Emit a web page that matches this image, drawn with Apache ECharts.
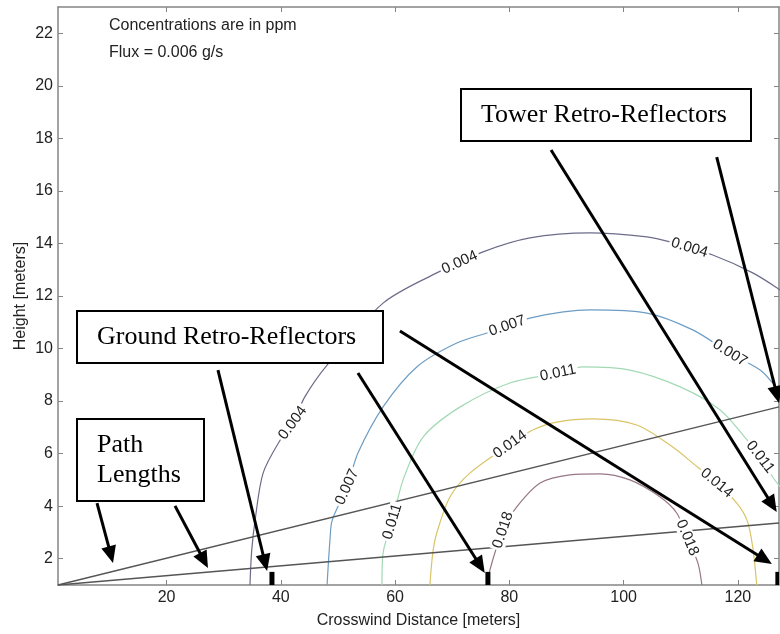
<!DOCTYPE html>
<html>
<head>
<meta charset="utf-8">
<title>Crosswind concentration contours</title>
<script src="https://cdn.jsdelivr.net/npm/echarts@6/dist/echarts.min.js"></script>
<style>
  html, body { margin: 0; padding: 0; background: #fff; }
  #main { width: 780px; height: 634px; }
</style>
</head>
<body>
<div id="main"></div>
<script>
// Axis ticks
const xTicks = [20, 40, 60, 80, 100, 120];
const yTicks = [2, 4, 6, 8, 10, 12, 14, 16, 18, 20, 22];

// Contour levels (ppm) and the [crosswind, height] points of each iso-line
const levels = ['0.004', '0.007', '0.011', '0.014', '0.018'];

const contour004 = [
  [34.6, 1.0], [34.9, 2.3], [35.5, 3.47], [36.9, 5.26], [39.9, 6.52], [42.1, 7.17],
  [44.2, 8.16], [48.1, 9.37], [57.9, 11.73], [67.3, 12.88], [75.4, 13.68],
  [83.6, 14.21], [94.1, 14.40], [104.1, 14.25], [108.1, 14.06], [115.6, 13.56],
  [122.6, 12.88], [127.4, 12.23]
];
const contour007 = [
  [48.1, 1.0], [48.6, 2.71], [49.0, 3.47], [51.6, 4.73], [53.5, 6.02], [57.9, 7.78],
  [63.8, 9.30], [70.8, 10.21], [76.6, 10.63], [83.6, 11.16], [94.1, 11.47],
  [104.1, 11.35], [112.1, 10.71], [118.6, 9.83], [123.9, 9.18], [126.1, 8.69],
  [127.4, 8.35]
];
const contour011 = [
  [57.7, 1.0], [57.9, 2.22], [59.6, 3.47], [61.4, 5.0], [64.9, 6.63], [71.4, 7.78],
  [80.1, 8.69], [88.5, 9.07], [92.9, 9.30], [101.1, 9.18], [109.9, 8.54],
  [116.9, 7.66], [121.6, 6.52], [123.9, 5.87], [126.1, 5.11], [127.4, 4.73]
];
const contour014 = [
  [66.1, 1.0], [66.6, 2.22], [67.3, 2.98], [69.6, 4.35], [73.1, 5.26], [80.5, 6.41],
  [84.1, 6.90], [88.3, 7.20], [94.6, 7.32], [102.3, 7.09], [108.6, 6.25],
  [112.1, 5.64], [116.3, 4.88], [119.8, 4.12], [121.6, 3.47], [122.6, 2.45],
  [123.3, 1.0]
];
const contour018 = [
  [76.3, 1.0], [76.6, 1.57], [78.9, 3.09], [81.3, 3.97], [85.4, 4.88], [90.6, 5.19],
  [95.9, 5.23], [101.1, 5.0], [106.4, 4.35], [109.3, 3.74], [111.1, 2.83],
  [113.0, 1.84], [113.7, 1.0]
];

// Inline contour labels: [level, crosswind, height]
const contourLabels = [
  ['0.004', 42.1, 7.17], ['0.004', 71.35, 13.26], ['0.004', 111.3, 13.68],
  ['0.007', 51.6, 4.73], ['0.007', 79.75, 10.78], ['0.007', 118.6, 9.83],
  ['0.011', 59.8, 3.40], ['0.011', 88.5, 9.07], ['0.011', 123.9, 5.87],
  ['0.014', 80.45, 6.25], ['0.014', 116.3, 4.88],
  ['0.018', 78.9, 3.09], ['0.018', 111.1, 2.79]
];

// Optical paths from the instrument to the tower retro-reflectors
const pathOrigin = [1, 1];
const pathEnds = [[127.2, 7.78], [127.2, 3.36]];

// Ground retro-reflector positions and their height
const groundReflectors = [38.45, 76.25, 127.0];
const reflectorTop = 1.5;

// Callout arrows: [fromX, fromY, toX, toY]
const arrows = [
  [7.83, 4.12, 10.63, 1.84],
  [21.48, 4.01, 27.25, 1.65],
  [29.0, 9.18, 37.6, 1.53],
  [53.5, 9.07, 75.7, 1.46],
  [60.85, 10.67, 125.95, 1.80],
  [87.3, 17.56, 126.8, 3.78],
  [116.3, 17.29, 127.2, 7.93]
];

const contours = [contour004, contour007, contour011, contour014, contour018];
const contourColors = ['#6c6c8a', '#6c9cc4', '#a2d9b4', '#d9c466', '#977787'];

const SANS = '"Liberation Sans", Arial, Helvetica, sans-serif';
const SERIF = '"Liberation Serif", "Times New Roman", serif';
const AXIS_COLOR = '#858585';

const chart = echarts.init(document.getElementById('main'), null, { renderer: 'canvas' });

const xMin = 1, xMax = 127.2, yMin = 1, yMax = 23;

function axisCommon(showLabels) {
  return {
    axisLine: { show: true, lineStyle: { color: AXIS_COLOR, width: 1.5 } },
    axisTick: { show: true, inside: true, length: 5, lineStyle: { color: AXIS_COLOR, width: 1 } },
    splitLine: { show: false },
    axisLabel: { show: showLabels, color: '#222', fontSize: 16, fontFamily: SANS, margin: 5 }
  };
}

const xBottom = Object.assign({
  type: 'value', position: 'bottom', min: xMin, max: xMax,
  name: 'Crosswind Distance [meters]', nameLocation: 'middle', nameGap: 28,
  nameMoveOverlap: false,
  nameTextStyle: { color: '#222', fontSize: 16, fontFamily: SANS }
}, axisCommon(true));
xBottom.axisTick.customValues = xTicks;
xBottom.axisLabel.customValues = xTicks;

const xTop = Object.assign({ type: 'value', position: 'top', min: xMin, max: xMax }, axisCommon(false));
xTop.axisTick.customValues = xTicks;
xTop.axisLabel.customValues = xTicks;

const yLeft = Object.assign({
  type: 'value', position: 'left', min: yMin, max: yMax,
  name: 'Height [meters]', nameLocation: 'middle', nameGap: 29,
  nameMoveOverlap: false,
  nameTextStyle: { color: '#222', fontSize: 16, fontFamily: SANS }
}, axisCommon(true));
yLeft.axisTick.customValues = yTicks;
yLeft.axisLabel.customValues = yTicks;

const yRight = Object.assign({ type: 'value', position: 'right', min: yMin, max: yMax }, axisCommon(false));
yRight.axisTick.customValues = yTicks;
yRight.axisLabel.customValues = yTicks;

const series = [];

contours.forEach(function (pts, i) {
  series.push({
    name: levels[i], type: 'line', data: pts, smooth: 0.3,
    symbol: 'none', showSymbol: false, silent: true,
    lineStyle: { color: contourColors[i], width: 1.2 }, z: 2
  });
});

pathEnds.forEach(function (end) {
  series.push({
    type: 'line', data: [pathOrigin, end], symbol: 'none', silent: true,
    lineStyle: { color: '#555', width: 1.3 }, z: 3
  });
});

// Ground retro-reflectors as small black posts
series.push({
  type: 'custom', silent: true, z: 4, clip: true,
  data: groundReflectors.map(function (x) { return [x, reflectorTop]; }),
  encode: { x: 0, y: 1 },
  renderItem: function (params, api) {
    const top = api.coord([api.value(0), api.value(1)]);
    const base = api.coord([api.value(0), yMin]);
    return {
      type: 'rect',
      shape: { x: top[0] - 2.5, y: top[1], width: 5, height: base[1] - top[1] },
      style: { fill: '#000' }
    };
  }
});

// Callout arrows with filled heads
series.push({
  type: 'custom', silent: true, z: 6, clip: false,
  data: arrows,
  encode: { x: [0, 2], y: [1, 3] },
  renderItem: function (params, api) {
    const p1 = api.coord([api.value(0), api.value(1)]);
    const p2 = api.coord([api.value(2), api.value(3)]);
    const dx = p2[0] - p1[0], dy = p2[1] - p1[1];
    const len = Math.sqrt(dx * dx + dy * dy);
    const ux = dx / len, uy = dy / len;
    const headLen = 17, headHalf = 7.5;
    const bx = p2[0] - ux * headLen, by = p2[1] - uy * headLen;
    return {
      type: 'group',
      children: [
        { type: 'line', shape: { x1: p1[0], y1: p1[1], x2: bx + ux * 2, y2: by + uy * 2 },
          style: { stroke: '#000', lineWidth: 3 } },
        { type: 'polygon',
          shape: { points: [[p2[0], p2[1]], [bx - uy * headHalf, by + ux * headHalf], [bx + uy * headHalf, by - ux * headHalf]] },
          style: { fill: '#000' } }
      ]
    };
  }
});

chart.setOption({
  animation: false,
  backgroundColor: '#fff',
  grid: { left: 58, right: 1, top: 7, bottom: 49, containLabel: false, outerBoundsMode: 'none' },
  xAxis: [xBottom, xTop],
  yAxis: [yLeft, yRight],
  series: series
});

// Place contour labels on their iso-lines, aligned with the local direction
function labelGraphics() {
  const out = [];
  contourLabels.forEach(function (lab) {
    const idx = levels.indexOf(lab[0]);
    const pts = contours[idx].map(function (p) {
      return chart.convertToPixel({ xAxisIndex: 0, yAxisIndex: 0 }, p);
    });
    const a = chart.convertToPixel({ xAxisIndex: 0, yAxisIndex: 0 }, [lab[1], lab[2]]);
    let best = null;
    for (let i = 0; i < pts.length - 1; i++) {
      const s = pts[i], e = pts[i + 1];
      const vx = e[0] - s[0], vy = e[1] - s[1];
      const l2 = vx * vx + vy * vy;
      let t = ((a[0] - s[0]) * vx + (a[1] - s[1]) * vy) / l2;
      t = Math.max(0, Math.min(1, t));
      const px = s[0] + t * vx, py = s[1] + t * vy;
      const d = (px - a[0]) * (px - a[0]) + (py - a[1]) * (py - a[1]);
      if (!best || d < best.d) best = { d: d, x: px, y: py, vx: vx, vy: vy };
    }
    let ang = Math.atan2(-best.vy, best.vx);
    if (ang > Math.PI / 2) ang -= Math.PI;
    if (ang < -Math.PI / 2) ang += Math.PI;
    out.push({
      type: 'text', x: best.x, y: best.y, rotation: ang, z: 50,
      style: {
        text: lab[0], font: '15px ' + SANS, fill: '#222',
        align: 'center', verticalAlign: 'middle',
        textAlign: 'center', textVerticalAlign: 'middle',
        backgroundColor: '#fff', padding: [0, 2]
      }
    });
  });
  return out;
}

function boxText(x, y, text) {
  return {
    type: 'text', x: x, y: y, z: 101,
    style: { text: text, font: '26px ' + SERIF, fill: '#000',
      align: 'left', verticalAlign: 'middle', textAlign: 'left', textVerticalAlign: 'middle' }
  };
}
function box(x, y, w, h) {
  return {
    type: 'rect', z: 100,
    shape: { x: x, y: y, width: w, height: h },
    style: { fill: '#fff', stroke: '#000', lineWidth: 2 }
  };
}

const notes = [
  { type: 'text', x: 109, y: 26, z: 60,
    style: { text: 'Concentrations are in ppm', font: '16px ' + SANS, fill: '#222',
      align: 'left', verticalAlign: 'middle', textAlign: 'left', textVerticalAlign: 'middle' } },
  { type: 'text', x: 109, y: 53, z: 60,
    style: { text: 'Flux = 0.006 g/s', font: '16px ' + SANS, fill: '#222',
      align: 'left', verticalAlign: 'middle', textAlign: 'left', textVerticalAlign: 'middle' } },
  box(461, 89, 290, 52), boxText(481, 115, 'Tower Retro-Reflectors'),
  box(77, 311, 306, 52), boxText(97, 337, 'Ground Retro-Reflectors'),
  box(77, 419, 127, 82), boxText(97, 445, 'Path'), boxText(97, 475, 'Lengths')
];

chart.setOption({ graphic: { elements: labelGraphics().concat(notes) } });
</script>
</body>
</html>
